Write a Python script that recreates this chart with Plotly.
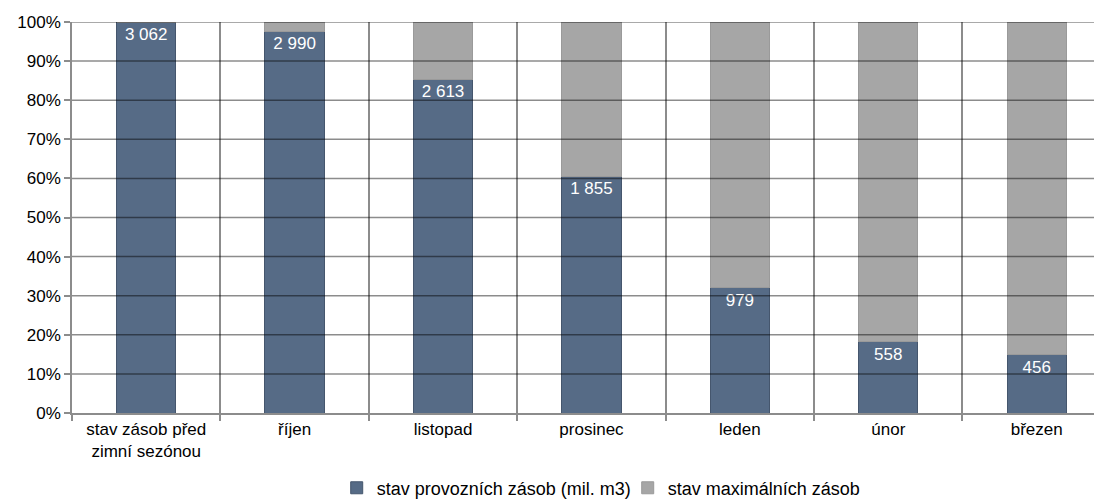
import plotly.graph_objects as go

categories = ["stav zásob před<br>zimní sezónou", "říjen", "listopad", "prosinec", "leden", "únor", "březen"]
provozni = [3062, 2990, 2613, 1855, 979, 558, 456]
zbytek_max = [0, 72, 449, 1207, 2083, 2504, 2606]
labels = ["3 062", "2 990", "2 613", "1 855", "979", "558", "456"]
y_ticks = [0, 10, 20, 30, 40, 50, 60, 70, 80, 90, 100]
y_tick_text = ["0%", "10%", "20%", "30%", "40%", "50%", "60%", "70%", "80%", "90%", "100%"]

FONT = "Liberation Sans, Arial"

fig = go.Figure()
fig.add_trace(go.Bar(
    x=categories, y=provozni, name="stav provozních zásob (mil. m3)",
    marker=dict(color="#566b86", line=dict(color="#45566d", width=1)),
    text=labels, textposition="inside", insidetextanchor="end",
    textfont=dict(color="white", size=17, family=FONT),
    textangle=0, hoverinfo="skip",
))
fig.add_trace(go.Bar(
    x=categories, y=zbytek_max, name="stav maximálních zásob",
    marker=dict(color="#a6a6a6", line=dict(color="#9a9a9a", width=1)),
    hoverinfo="skip",
))

# horizontal gridlines drawn over the bars, as in the reference
for v in y_ticks[1:]:
    fig.add_shape(type="line", xref="paper", yref="y", x0=0, x1=1, y0=v, y1=v,
                  line=dict(color="rgba(0,0,0,0.45)", width=1.5), layer="above")

fig.update_layout(
    barmode="stack", barnorm="percent", bargap=0.6,
    width=1094, height=491,
    margin=dict(l=64, r=0, t=14, b=86, autoexpand=False),
    paper_bgcolor="white", plot_bgcolor="white",
    font=dict(family=FONT, size=16, color="#000000"),
    legend=dict(orientation="h", x=0.257, xanchor="left", y=-0.192, yanchor="middle",
                font=dict(size=18), traceorder="normal", itemwidth=30,
                entrywidth=246, entrywidthmode="pixels"),
)
fig.update_xaxes(
    range=[-0.5, 6.44],
    tickson="boundaries", showgrid=True, gridcolor="#8c8c8c", gridwidth=1.5,
    ticks="outside", ticklen=6, tickcolor="#8c8c8c", tickwidth=1.5,
    showline=True, linecolor="#8c8c8c", linewidth=1.5,
    tickfont=dict(size=17), automargin=False,
)
fig.update_yaxes(
    range=[0, 100], tickvals=y_ticks, ticktext=y_tick_text,
    showgrid=False,
    ticks="outside", ticklen=6, tickcolor="#8c8c8c", tickwidth=1.5,
    showline=True, linecolor="#8c8c8c", linewidth=1.5,
    tickfont=dict(size=17), zeroline=False, automargin=False,
)
fig.write_html("out.html")
